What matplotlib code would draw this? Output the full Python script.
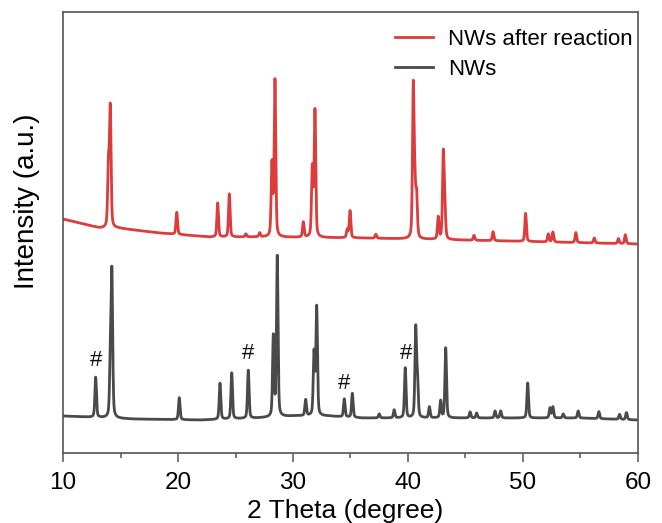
import numpy as np
import matplotlib
matplotlib.use("Agg")
import matplotlib.pyplot as plt

plt.rcParams['font.family'] = ['Liberation Sans', 'DejaVu Sans']

# peak positions (2 theta, degree) and heights above the baseline (a.u.)
nw_pos = [12.84, 14.12, 14.25, 20.11, 23.65, 24.67, 26.11, 28.29, 28.63, 31.10,
          31.83, 32.06, 34.46, 35.16, 37.5, 38.8, 39.76, 40.67, 40.82, 41.86,
          42.84, 43.28, 45.4, 45.97, 47.57, 48.06, 50.41, 52.35, 52.6, 53.5,
          54.8, 56.6, 58.4, 59.0]
nw_height = [40, 55, 140, 22, 36, 46, 48, 80, 160, 16,
             62, 108, 18, 24, 4, 8, 50, 88, 36, 11,
             17, 70, 6, 5, 7, 7, 35, 10, 11, 4,
             7, 7, 5, 7]
nw_bg_x = [10, 12, 16, 22, 27, 30, 33, 36, 45, 50, 55, 60]
nw_bg_y = [37, 36, 34, 33, 35, 37, 37, 35, 35, 35, 35, 33]

re_pos = [13.95, 14.11, 19.89, 23.45, 24.46, 25.9, 27.1, 28.17, 28.43, 30.90,
          31.68, 31.91, 34.72, 34.96, 37.2, 40.46, 40.60, 40.75, 42.63, 43.07,
          43.20, 45.74, 47.4, 50.23, 52.2, 52.6, 54.6, 56.2, 58.3, 58.9]
re_height = [60, 118, 22, 34, 43, 3, 4, 72, 156, 15,
             68, 126, 8, 27, 4, 150, 45, 40, 22, 84,
             30, 5, 9, 28, 8, 10, 10, 5, 5, 9]
re_bg_x = [10, 13.2, 14.7, 18.4, 22.8, 27.1, 36, 48.6, 60]
re_bg_y = [234, 225, 225, 220, 216, 216, 215, 212, 209]

hash_x = [12.84, 26.11, 34.46, 39.80]
hash_y = [93, 100, 70, 100]

two_theta = np.linspace(10, 60, 5001)


def pattern(pos, height, bg_x, bg_y, fwhm=0.16):
    y = np.interp(two_theta, bg_x, bg_y).astype(float)
    for p, h in zip(pos, height):
        d = (two_theta - p) / (fwhm / 2)
        y += h * (0.6 * np.exp(-np.log(2) * d ** 2) + 0.4 / (1 + d ** 2))
    return y


fig = plt.figure(figsize=(6.62, 5.23), dpi=100)
ax = fig.add_axes([0.0952, 0.1338, 0.8685, 0.8432])

ax.plot(two_theta, pattern(re_pos, re_height, re_bg_x, re_bg_y),
        color='#dd3c3c', lw=2.0, label='NWs after reaction')
ax.plot(two_theta, pattern(nw_pos, nw_height, nw_bg_x, nw_bg_y),
        color='#4a4a4a', lw=2.0, label='NWs')

for x, y in zip(hash_x, hash_y):
    ax.text(x, y, '#', ha='center', va='center', fontsize=16, color='#111111')

ax.set_xlim(10, 60)
ax.set_ylim(0, 441)
ax.set_xticks([10, 20, 30, 40, 50, 60])
ax.set_xticks([15, 25, 35, 45, 55], minor=True)
ax.set_yticks([])
ax.tick_params(axis='x', which='major', direction='out', length=6.5, width=1.1,
               labelsize=17.5, color='#555555', pad=7)
ax.tick_params(axis='x', which='minor', direction='out', length=3.6, width=1.1,
               color='#555555')
for s in ax.spines.values():
    s.set_color('#555555')
    s.set_linewidth(1.2)

ax.set_xlabel('2 Theta (degree)', fontsize=19)
ax.xaxis.set_label_coords(0.49, -0.105)
ax.set_ylabel('Intensity (a.u.)', fontsize=20)
ax.yaxis.set_label_coords(-0.04, 0.571)

ax.legend(loc='upper right', bbox_to_anchor=(1.016, 0.995), frameon=False,
          fontsize=16, handlelength=1.7, handletextpad=0.7,
          labelspacing=0.4, borderaxespad=0.25)

fig.savefig('out.png', dpi=100)
